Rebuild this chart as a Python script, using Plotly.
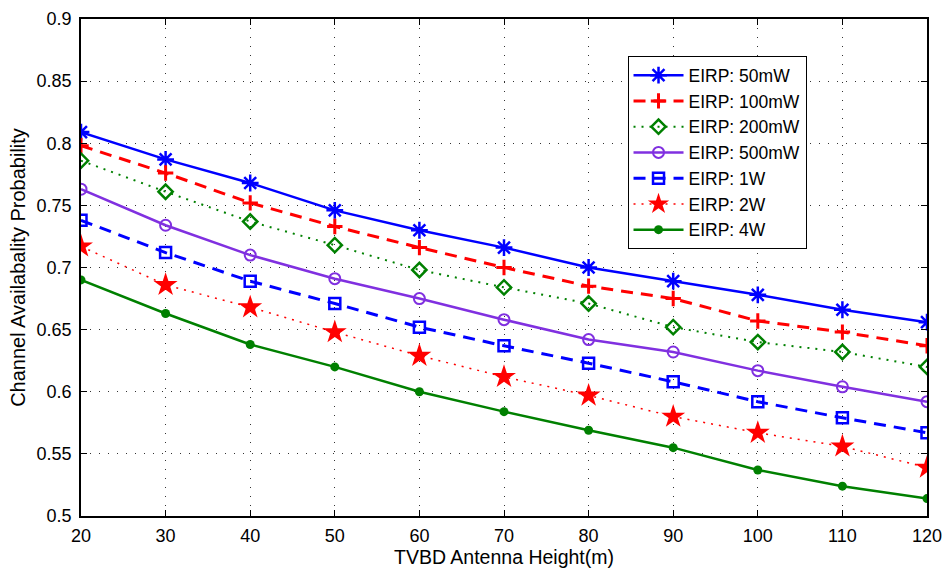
import plotly.graph_objects as go

heights = [20, 30, 40, 50, 60, 70, 80, 90, 100, 110, 120]
eirp_50mw = [0.809, 0.787, 0.768, 0.746, 0.730, 0.716, 0.700, 0.689, 0.678, 0.666, 0.656]
eirp_100mw = [0.798, 0.776, 0.752, 0.733, 0.716, 0.700, 0.685, 0.675, 0.657, 0.648, 0.637]
eirp_200mw = [0.786, 0.761, 0.737, 0.718, 0.698, 0.684, 0.671, 0.652, 0.640, 0.632, 0.620]
eirp_500mw = [0.763, 0.734, 0.710, 0.691, 0.675, 0.658, 0.642, 0.632, 0.617, 0.604, 0.592]
eirp_1w = [0.738, 0.712, 0.689, 0.671, 0.652, 0.637, 0.623, 0.608, 0.592, 0.579, 0.567]
eirp_2w = [0.717, 0.686, 0.668, 0.648, 0.629, 0.612, 0.597, 0.580, 0.567, 0.556, 0.539]
eirp_4w = [0.690, 0.663, 0.638, 0.620, 0.600, 0.584, 0.569, 0.555, 0.537, 0.524, 0.514]

y_ticks = [0.5, 0.55, 0.6, 0.65, 0.7, 0.75, 0.8, 0.85, 0.9]
y_tick_text = ["0.5", "0.55", "0.6", "0.65", "0.7", "0.75", "0.8", "0.85", "0.9"]
x_ticks = heights

# name, values, colour, dash, line width, symbol, marker size, marker line width
series = [
    ("EIRP: 50mW", eirp_50mw, "#0000FF", "solid", 2.5, "asterisk-open", 14, 2.5),
    ("EIRP: 100mW", eirp_100mw, "#FF0000", "12px,8px", 3, "cross-thin-open", 11, 3),
    ("EIRP: 200mW", eirp_200mw, "#008000", "2px,6px", 2, "diamond-open", 11, 2.5),
    ("EIRP: 500mW", eirp_500mw, "#8030E0", "solid", 2.5, "circle-open", 11, 2),
    ("EIRP: 1W", eirp_1w, "#0000FF", "12px,8px", 3, "square-open", 11, 2.5),
    ("EIRP: 2W", eirp_2w, "#FF0000", "2px,6px", 1.5, "star", 18, 0),
    ("EIRP: 4W", eirp_4w, "#008000", "solid", 2.5, "circle", 9, 0),
]

fig = go.Figure()
for name, vals, color, dash, lw, symbol, msize, mlw in series:
    fig.add_trace(go.Scatter(
        x=heights, y=vals, name=name, mode="lines+markers",
        line=dict(color=color, width=lw, dash=dash),
        marker=dict(symbol=symbol, size=msize, color=color,
                    line=dict(color=color, width=mlw)),
    ))

family = "Liberation Sans, Arial, Helvetica, sans-serif"
tick_font = dict(family=family, size=18, color="#000000")

fig.update_layout(
    width=951, height=571,
    margin=dict(l=81, r=19, t=9, b=54),
    paper_bgcolor="white", plot_bgcolor="white",
    font=tick_font,
    showlegend=True,
    legend=dict(x=0.646, y=0.925, xanchor="left", yanchor="top",
                bgcolor="white", bordercolor="black", borderwidth=1,
                font=dict(family=family, size=17.5, color="#000000"),
                tracegroupgap=0, itemwidth=50),
)
axis_common = dict(
    showgrid=True, gridcolor="#333333", griddash="1px,8px", gridwidth=1,
    showline=True, linecolor="black", linewidth=1.5, mirror="allticks",
    ticks="inside", ticklen=6, tickcolor="black", zeroline=False,
    tickfont=tick_font,
)
fig.update_xaxes(
    range=[20, 120], tickvals=x_ticks, ticklabelstandoff=3,
    title=dict(text="TVBD Antenna Height(m)", standoff=2,
               font=dict(family=family, size=19.5, color="#000000")),
    **axis_common,
)
fig.update_yaxes(
    range=[0.5, 0.9], tickvals=y_ticks, ticktext=y_tick_text, ticklabelstandoff=4,
    title=dict(text="Channel Availabality Probability", standoff=6,
               font=dict(family=family, size=20, color="#000000")),
    **axis_common,
)

fig.write_html(
    "out.html",
    config={"displayModeBar": False},
    post_script="document.body.style.margin='0';document.body.style.padding='0';",
)
